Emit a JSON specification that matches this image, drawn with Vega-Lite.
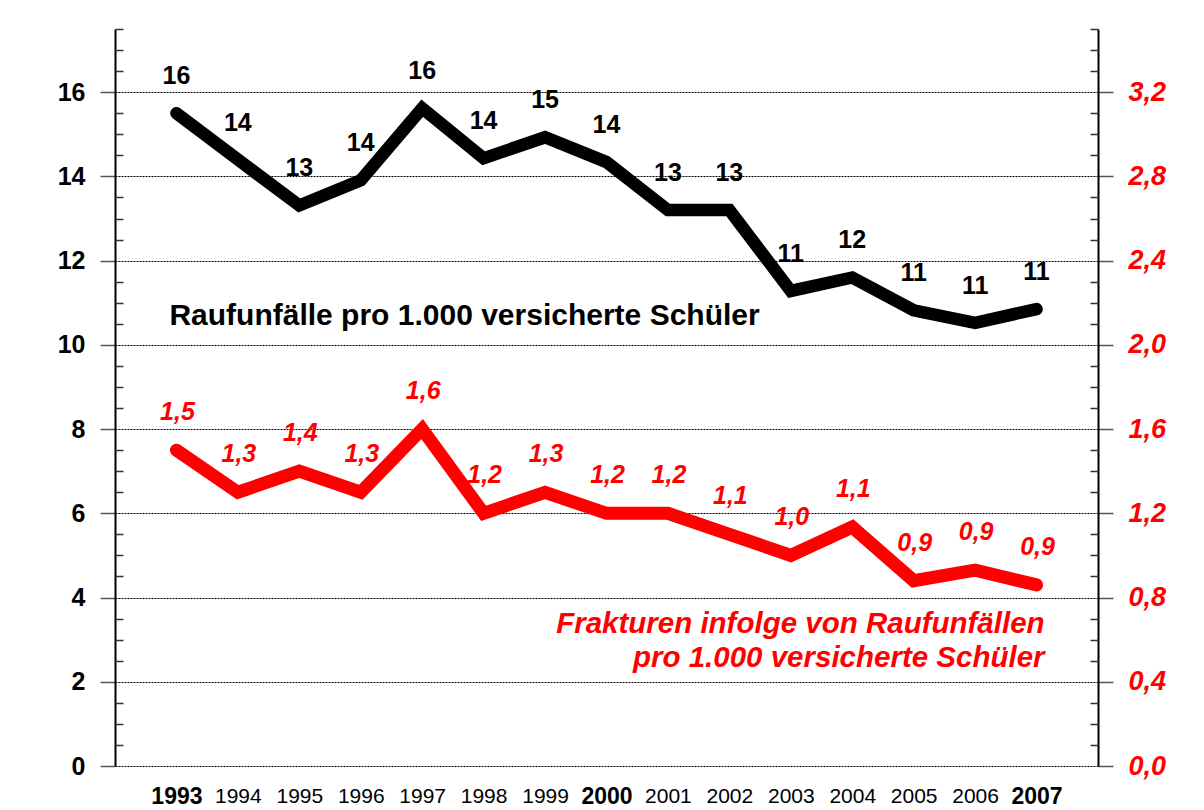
{
  "$schema": "https://vega.github.io/schema/vega-lite/v6.json",
  "width": 983,
  "height": 737,
  "autosize": {"type": "none"},
  "padding": {"left": 115, "top": 29, "right": 106, "bottom": 44},
  "background": "white",
  "config": {"view": {"stroke": null}, "font": "Liberation Sans"},
  "data": {"values": [
    {"year": 1993, "r": 15.5, "rl": "16", "f": 1.5, "fl": "1,5"},
    {"year": 1994, "r": 14.4, "rl": "14", "f": 1.3, "fl": "1,3"},
    {"year": 1995, "r": 13.31, "rl": "13", "f": 1.4, "fl": "1,4"},
    {"year": 1996, "r": 13.91, "rl": "14", "f": 1.3, "fl": "1,3"},
    {"year": 1997, "r": 15.62, "rl": "16", "f": 1.6, "fl": "1,6"},
    {"year": 1998, "r": 14.43, "rl": "14", "f": 1.2, "fl": "1,2"},
    {"year": 1999, "r": 14.93, "rl": "15", "f": 1.3, "fl": "1,3"},
    {"year": 2000, "r": 14.34, "rl": "14", "f": 1.2, "fl": "1,2"},
    {"year": 2001, "r": 13.2, "rl": "13", "f": 1.2, "fl": "1,2"},
    {"year": 2002, "r": 13.2, "rl": "13", "f": 1.1, "fl": "1,1"},
    {"year": 2003, "r": 11.28, "rl": "11", "f": 1.0, "fl": "1,0"},
    {"year": 2004, "r": 11.6, "rl": "12", "f": 1.135, "fl": "1,1"},
    {"year": 2005, "r": 10.82, "rl": "11", "f": 0.88, "fl": "0,9"},
    {"year": 2006, "r": 10.52, "rl": "11", "f": 0.93, "fl": "0,9"},
    {"year": 2007, "r": 10.85, "rl": "11", "f": 0.86, "fl": "0,9"}
  ]},
  "encoding": {
    "x": {
      "field": "year", "type": "ordinal",
      "scale": {"type": "point", "padding": 1},
      "axis": {
        "title": null, "ticks": false, "tickSize": 0, "domain": false, "grid": false,
        "labelAngle": 0, "labelPadding": 19, "labelColor": "black",
        "labelFontSize": {"condition": {"test": "datum.value == 1993 || datum.value == 2000 || datum.value == 2007", "value": 23}, "value": 21},
        "labelFontWeight": {"condition": {"test": "datum.value == 1993 || datum.value == 2000 || datum.value == 2007", "value": "bold"}, "value": "normal"}
      }
    }
  },
  "layer": [
    {
      "encoding": {
        "y": {
          "field": "r", "type": "quantitative",
          "scale": {"domain": [0, 17.5], "nice": false, "zero": true},
          "axis": {
            "orient": "left", "title": null,
            "values": [0, 2, 4, 6, 8, 10, 12, 14, 16],
            "tickSize": 15, "tickColor": "#555", "tickWidth": 1.5,
            "domain": true, "domainColor": "black", "domainWidth": 2,
            "grid": true, "gridColor": "black", "gridDash": [2, 1], "gridWidth": 1, "gridOpacity": 1,
            "labelFontSize": 25, "labelFontWeight": "bold", "labelColor": "black", "labelPadding": 15
          }
        }
      },
      "layer": [
        {"mark": {"type": "line", "color": "black", "strokeWidth": 12.5, "strokeCap": "round", "strokeJoin": "miter"}},
        {"mark": {"type": "text", "fontSize": 25, "fontWeight": "bold", "color": "black", "dy": -37, "baseline": "middle"},
         "encoding": {"text": {"field": "rl"}}},
        {"data": {"values": [{"year": 1993, "r": 10.47, "note": "Raufunfälle pro 1.000 versicherte Schüler"}]},
         "mark": {"type": "text", "fontSize": 30, "fontWeight": "bold", "color": "black", "align": "left", "baseline": "alphabetic", "dx": -7},
         "encoding": {"text": {"field": "note"}}}
      ]
    },
    {
      "mark": {"type": "line", "opacity": 0},
      "encoding": {
        "y": {
          "field": "r", "type": "quantitative",
          "scale": {"domain": [0, 17.5], "nice": false, "zero": true},
          "axis": {
            "orient": "left", "title": null, "labels": false, "domain": false, "grid": false,
            "values": [0.5, 1, 1.5, 2.5, 3, 3.5, 4.5, 5, 5.5, 6.5, 7, 7.5, 8.5, 9, 9.5, 10.5, 11, 11.5, 12.5, 13, 13.5, 14.5, 15, 15.5, 16.5, 17, 17.5],
            "tickSize": -8, "tickColor": "#333", "tickWidth": 1.5
          }
        }
      }
    },
    {
      "encoding": {
        "y": {
          "field": "f", "type": "quantitative",
          "scale": {"domain": [0, 3.5], "nice": false, "zero": true},
          "axis": {
            "orient": "right", "title": null,
            "values": [0, 0.4, 0.8, 1.2, 1.6, 2.0, 2.4, 2.8, 3.2],
            "tickSize": 15, "tickColor": "#555", "tickWidth": 1.5,
            "domain": true, "domainColor": "black", "domainWidth": 2,
            "grid": false,
            "labelExpr": "replace(format(datum.value, '.1f'), '.', ',')",
            "labelFontSize": 27, "labelFontWeight": "bold", "labelFontStyle": "italic", "labelColor": "#FF0000", "labelPadding": 15
          }
        }
      },
      "layer": [
        {"mark": {"type": "line", "color": "#FF0000", "strokeWidth": 13, "strokeCap": "round", "strokeJoin": "miter"}},
        {"mark": {"type": "text", "fontSize": 25, "fontWeight": "bold", "fontStyle": "italic", "color": "#FF0000", "dy": -38, "dx": 1, "baseline": "middle"},
         "encoding": {"text": {"field": "fl"}}},
        {"data": {"values": [{"year": 2007, "f": 0.632, "note": "Frakturen infolge von Raufunfällen\npro 1.000 versicherte Schüler"}]},
         "mark": {"type": "text", "fontSize": 29.5, "fontWeight": "bold", "fontStyle": "italic", "color": "#FF0000", "align": "right", "baseline": "alphabetic", "lineHeight": 34, "lineBreak": "\n", "dx": 8},
         "encoding": {"text": {"field": "note"}}}
      ]
    },
    {
      "mark": {"type": "line", "opacity": 0},
      "encoding": {
        "y": {
          "field": "f", "type": "quantitative",
          "scale": {"domain": [0, 3.5], "nice": false, "zero": true},
          "axis": {
            "orient": "right", "title": null, "labels": false, "domain": false, "grid": false,
            "values": [0.1, 0.2, 0.3, 0.5, 0.6, 0.7, 0.9, 1.0, 1.1, 1.3, 1.4, 1.5, 1.7, 1.8, 1.9, 2.1, 2.2, 2.3, 2.5, 2.6, 2.7, 2.9, 3.0, 3.1, 3.3, 3.4, 3.5],
            "tickSize": -8, "tickColor": "#333", "tickWidth": 1.5
          }
        }
      }
    }
  ],
  "resolve": {"scale": {"y": "independent"}, "axis": {"y": "independent"}}
}
